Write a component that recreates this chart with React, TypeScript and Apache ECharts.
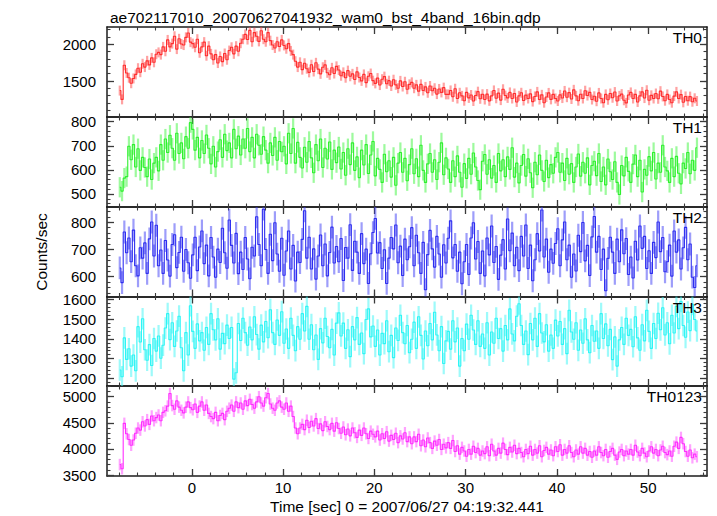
import React, { useEffect, useRef } from "react";
import * as echarts from "echarts";

const TITLE = "ae702117010_20070627041932_wam0_bst_4band_16bin.qdp";
const X_LABEL = "Time [sec] 0 = 2007/06/27 04:19:32.441";
const Y_LABEL = "Counts/sec";
const PANEL_NAMES = ["TH0", "TH1", "TH2", "TH3", "TH0123"];

const TIME_START = -7.9;
const BIN_WIDTH = 0.25;
const X_MIN = -9.3;
const X_MAX = 56.45;
const X_MAJOR = [0, 10, 20, 30, 40, 50];
const X_MINOR = [-8, -6, -4, -2, 0, 2, 4, 6, 8, 10, 12, 14, 16, 18, 20, 22, 24, 26, 28, 30, 32, 34, 36, 38, 40, 42, 44, 46, 48, 50, 52, 54, 56];

const TH0 = [
  1370, 1250, 1715, 1610, 1545, 1470, 1535, 1590, 1675, 1620, 1735, 1690, 1775, 1720, 1815, 1755,
  1865, 1890, 1860, 1965, 1905, 2060, 1965, 2010, 2110, 1935, 2075, 2005, 1990, 2095, 2155, 2030,
  2010, 1960, 2070, 1885, 1965, 2030, 1845, 1975, 1870, 1790, 1860, 1745, 1835, 1765, 1875, 1790,
  1915, 1960, 1870, 1975, 1905, 2015, 2070, 2135, 2065, 2190, 2035, 2160, 2110, 2040, 2185, 2070,
  2035, 2160, 2050, 1990, 1950, 2035, 1970, 2060, 1985, 1940, 2010, 1910, 1860, 1770, 1690, 1755,
  1655, 1742, 1668, 1618, 1722, 1630, 1748, 1662, 1598, 1688, 1720, 1612, 1585, 1680, 1602, 1700,
  1650, 1572, 1618, 1545, 1642, 1565, 1598, 1520, 1625, 1548, 1502, 1590, 1478, 1565, 1602, 1505,
  1468, 1540, 1445, 1525, 1560, 1462, 1505, 1432, 1518, 1448, 1402, 1502, 1425, 1490, 1388, 1455,
  1482, 1402, 1448, 1362, 1455, 1372, 1420, 1340, 1432, 1368, 1402, 1322, 1392, 1345, 1410, 1318,
  1318, 1372, 1285, 1395, 1262, 1340, 1298, 1232, 1346, 1270, 1310, 1228, 1302, 1355, 1258, 1320,
  1248, 1322, 1230, 1298, 1372, 1265, 1335, 1240, 1388, 1302, 1270, 1345, 1262, 1330, 1215, 1298,
  1340, 1235, 1308, 1262, 1325, 1220, 1290, 1352, 1248, 1312, 1205, 1282, 1338, 1250, 1318, 1262,
  1228, 1312, 1268, 1365, 1280, 1342, 1255, 1380, 1298, 1232, 1320, 1262, 1368, 1302, 1345, 1248,
  1292, 1225, 1338, 1262, 1205, 1318, 1245, 1330, 1272, 1350, 1228, 1298, 1322, 1238, 1202, 1310,
  1345, 1262, 1318, 1215, 1298, 1352, 1268, 1375, 1238, 1305, 1262, 1330, 1258, 1362, 1290, 1232,
  1318, 1248, 1205, 1295, 1352, 1262, 1315, 1210, 1290, 1232, 1288, 1218, 1265, 1228,
];

const TH1 = [
  528, 512, 566, 572, 698, 642, 705, 612, 688, 598, 652, 610, 572, 645, 560, 628,
  652, 596, 705, 640, 728, 672, 744, 690, 640, 752, 668, 712, 646, 738, 690, 796,
  768, 682, 735, 650, 722, 668, 745, 690, 625, 698, 612, 676, 725, 652, 748, 680,
  712, 650, 768, 688, 740, 662, 728, 690, 772, 676, 735, 650, 748, 702, 665, 738,
  682, 628, 712, 660, 735, 640, 718, 675, 698, 625, 752, 668, 772, 628, 714, 652,
  608, 694, 632, 718, 650, 588, 705, 638, 728, 610, 690, 645, 716, 602, 682, 630,
  695, 604, 672, 578, 688, 622, 712, 598, 654, 568, 682, 620, 705, 585, 662, 718,
  575, 648, 602, 548, 665, 592, 638, 570, 652, 536, 628, 672, 590, 648, 555, 622,
  688, 584, 646, 572, 702, 598, 548, 625, 668, 590, 642, 560, 632, 712, 580, 650,
  604, 548, 638, 572, 658, 590, 528, 626, 565, 648, 582, 670, 612, 556, 518, 636,
  664, 582, 642, 566, 618, 548, 668, 596, 642, 572, 654, 602, 692, 570, 628, 546,
  618, 664, 574, 646, 588, 526, 632, 580, 662, 598, 552, 640, 568, 622, 586, 652,
  672, 590, 628, 556, 648, 582, 626, 548, 612, 666, 574, 632, 586, 650, 538, 618,
  636, 576, 668, 552, 612, 538, 645, 592, 560, 634, 548, 498, 618, 575, 652, 594,
  548, 624, 662, 572, 640, 508, 602, 578, 655, 596, 672, 562, 628, 590, 702, 612,
  596, 548, 648, 572, 656, 586, 542, 628, 606, 672, 584, 640, 598, 692,
];

const TH2 = [
  632, 578, 764, 688, 742, 655, 771, 640, 603, 706, 668, 724, 612, 739, 801, 676,
  789, 640, 698, 612, 733, 661, 602, 718, 754, 633, 689, 745, 620, 700, 651, 594,
  680, 745, 622, 709, 768, 648, 716, 603, 744, 672, 598, 701, 652, 778, 688, 631,
  808, 715, 650, 759, 611, 690, 626, 744, 665, 592, 708, 676, 820, 718, 640, 848,
  700, 612, 756, 659, 798, 683, 620, 741, 605, 694, 768, 628, 715, 584, 690, 652,
  737, 842, 668, 745, 628, 702, 591, 676, 753, 640, 720, 603, 689, 782, 650, 711,
  655, 740, 586, 707, 668, 791, 623, 730, 690, 612, 758, 648, 701, 575, 684, 762,
  814, 687, 725, 630, 699, 575, 668, 744, 702, 790, 651, 712, 604, 738, 662, 710,
  780, 640, 752, 688, 612, 726, 552, 681, 770, 702, 635, 748, 683, 598, 717, 650,
  741, 805, 669, 718, 620, 690, 574, 655, 718, 608, 742, 798, 665, 729, 612, 694,
  603, 742, 680, 786, 652, 711, 590, 679, 736, 628, 812, 695, 760, 640, 708, 622,
  748, 676, 790, 630, 716, 585, 662, 758, 694, 845, 672, 738, 616, 701, 649, 722,
  776, 640, 735, 801, 662, 716, 598, 683, 621, 752, 692, 799, 658, 715, 604, 746,
  821, 690, 748, 626, 701, 548, 667, 745, 690, 612, 738, 655, 772, 684, 740, 608,
  672, 595, 730, 661, 786, 704, 748, 630, 695, 612, 726, 670, 801, 692, 744, 618,
  655, 716, 602, 768, 690, 735, 628, 706, 781, 662, 720, 598, 560, 640,
];

const TH3 = [
  1242, 1208, 1405, 1296, 1350, 1262, 1318, 1238, 1462, 1384, 1502, 1345, 1292, 1371, 1265, 1402,
  1338, 1415, 1302, 1368, 1455, 1528, 1396, 1482, 1362, 1440, 1515, 1355, 1238, 1432, 1318, 1568,
  1438, 1352, 1476, 1390, 1432, 1342, 1458, 1372, 1528, 1446, 1395, 1502, 1348, 1428, 1376, 1470,
  1402, 1458, 1196, 1228, 1478, 1392, 1505, 1432, 1368, 1460, 1395, 1512, 1422, 1348, 1470, 1385,
  1488, 1406, 1548, 1432, 1372, 1496, 1418, 1538, 1378, 1450, 1352, 1505, 1418, 1340, 1462, 1398,
  1528, 1440, 1565, 1398, 1472, 1345, 1420, 1296, 1452, 1380, 1505, 1412, 1355, 1448, 1318, 1480,
  1532, 1415, 1480, 1352, 1446, 1310, 1462, 1395, 1508, 1372, 1430, 1325, 1498, 1552, 1410, 1465,
  1362, 1445, 1318, 1428, 1376, 1492, 1335, 1418, 1305, 1455, 1392, 1520, 1432, 1375, 1468, 1330,
  1398, 1485, 1352, 1512, 1418, 1298, 1440, 1365, 1478, 1395, 1535, 1420, 1340, 1462, 1275, 1390,
  1438, 1348, 1492, 1385, 1455, 1262, 1402, 1340, 1475, 1398, 1520, 1445, 1372, 1492, 1362, 1425,
  1352, 1482, 1318, 1435, 1378, 1505, 1402, 1452, 1338, 1468, 1395, 1552, 1425, 1390, 1515, 1578,
  1468, 1372, 1440, 1320, 1478, 1395, 1505, 1362, 1528, 1430, 1385, 1472, 1338, 1420, 1352, 1495,
  1415, 1488, 1372, 1452, 1325, 1545, 1435, 1398, 1482, 1342, 1445, 1378, 1502, 1395, 1330, 1468,
  1388, 1440, 1352, 1528, 1402, 1476, 1365, 1448, 1295, 1410, 1262, 1395, 1458, 1372, 1505, 1418,
  1448, 1360, 1512, 1405, 1342, 1472, 1390, 1545, 1438, 1352, 1478, 1402, 1530, 1446, 1558, 1420,
  1482, 1375, 1520, 1430, 1565, 1452, 1590, 1468, 1408, 1536, 1442, 1575, 1498, 1440,
];

const TH0123 = [
  3700, 3620, 4490, 4290, 4180, 4070, 4170, 4300, 4400, 4360, 4520, 4440, 4560, 4470, 4630, 4540,
  4600, 4650, 4540, 4700, 4730, 4820, 5060, 4830, 4760, 4920, 4800, 4740, 4690, 4800, 4900, 4790,
  4750, 4860, 4700, 4820, 4900, 4740, 4840, 4680, 4620, 4580, 4700, 4540, 4640, 4680, 4560, 4720,
  4780, 4840, 4720, 4900, 4790, 4880, 4760, 4920, 4830, 4950, 4850, 4780, 4900, 5000, 4880, 4820,
  4980, 5060, 4860, 4780, 4740, 4880, 4920, 4800, 4760, 4880, 4720, 4820, 4620, 4400, 4290, 4400,
  4470, 4370, 4550, 4410, 4530, 4440, 4580, 4390, 4480, 4350, 4520, 4430, 4370, 4490, 4340, 4500,
  4390, 4300, 4420, 4270, 4380, 4250, 4400, 4310, 4220, 4360, 4260, 4400, 4290, 4200, 4340, 4280,
  4230, 4340, 4170, 4290, 4200, 4330, 4150, 4260, 4180, 4300, 4120, 4250, 4190, 4310, 4140, 4230,
  4100, 4230, 4140, 4280, 4060, 4170, 4040, 4210, 4120, 4010, 4150, 4070, 4180, 3990, 4090, 4020,
  4120, 4010, 4160, 3950, 4060, 3900, 4030, 3960, 3860, 3990, 3900, 4050, 3930, 4010, 3880, 3960,
  3910, 4040, 3870, 4090, 3960, 3880, 4010, 3920, 4110, 3990, 3890, 4030, 3940, 4070, 3910, 4010,
  3930, 3850, 3990, 3910, 4050, 3880, 3990, 3920, 4060, 3850, 3970, 4030, 3900, 3980, 3870, 4040,
  3950, 4080, 3880, 3990, 3920, 4060, 3930, 3850, 3980, 3900, 4040, 3920, 4010, 3880, 3950, 3840,
  3960, 3880, 4040, 3930, 3870, 3990, 3840, 3950, 4010, 3880, 3800, 3940, 3990, 3870, 3960, 3900,
  3990, 3880, 4070, 3940, 3870, 4010, 3920, 3850, 3960, 4040, 3920, 3990, 3870, 3980, 4050, 3930,
  3890, 3960, 3860, 4050, 4130, 4010, 4220, 4100, 3950, 3860, 3980, 3830, 3900, 3850,
];

const ERR_TH0 = 68;
const ERR_TH1 = 42;
const ERR_TH2 = 42;
const ERR_TH3 = 55;
const ERR_TH0123 = 110;

const Y_RANGE_TH0 = [1010, 2236];
const Y_RANGE_TH1 = [446, 819.5];
const Y_RANGE_TH2 = [527, 856];
const Y_RANGE_TH3 = [1161, 1615];
const Y_RANGE_TH0123 = [3481, 5205];

const Y_MAJOR_TH0 = [1500, 2000];
const Y_MINOR_TH0 = [1100, 1200, 1300, 1400, 1500, 1600, 1700, 1800, 1900, 2000, 2100, 2200];
const Y_MAJOR_TH1 = [500, 600, 700, 800];
const Y_MINOR_TH1 = [460, 480, 500, 520, 540, 560, 580, 600, 620, 640, 660, 680, 700, 720, 740, 760, 780, 800];
const Y_MAJOR_TH2 = [600, 700, 800];
const Y_MINOR_TH2 = [540, 560, 580, 600, 620, 640, 660, 680, 700, 720, 740, 760, 780, 800, 820, 840];
const Y_MAJOR_TH3 = [1200, 1300, 1400, 1500, 1600];
const Y_MINOR_TH3 = [1180, 1200, 1220, 1240, 1260, 1280, 1300, 1320, 1340, 1360, 1380, 1400, 1420, 1440, 1460, 1480, 1500, 1520, 1540, 1560, 1580, 1600];
const Y_MAJOR_TH0123 = [3500, 4000, 4500, 5000];
const Y_MINOR_TH0123 = [3500, 3600, 3700, 3800, 3900, 4000, 4100, 4200, 4300, 4400, 4500, 4600, 4700, 4800, 4900, 5000, 5100, 5200];

const FONT_FAMILY = '"Liberation Sans", Arial, Helvetica, sans-serif';
const FRAME = "#1c1c1c";
const TICK = "#3a3a3a";

const PANEL_TOPS = [27, 117, 207, 296.5, 386];
const PANEL_H = [90, 90, 89.5, 89.5, 90];

const PANELS = [
  { name: PANEL_NAMES[0], values: TH0, err: ERR_TH0, range: Y_RANGE_TH0, major: Y_MAJOR_TH0, minor: Y_MINOR_TH0, color: "#ff2e2e", errColor: "rgba(255,70,70,0.5)" },
  { name: PANEL_NAMES[1], values: TH1, err: ERR_TH1, range: Y_RANGE_TH1, major: Y_MAJOR_TH1, minor: Y_MINOR_TH1, color: "#2ef02e", errColor: "rgba(60,245,60,0.5)" },
  { name: PANEL_NAMES[2], values: TH2, err: ERR_TH2, range: Y_RANGE_TH2, major: Y_MAJOR_TH2, minor: Y_MINOR_TH2, color: "#2e2ef0", errColor: "rgba(60,60,245,0.5)" },
  { name: PANEL_NAMES[3], values: TH3, err: ERR_TH3, range: Y_RANGE_TH3, major: Y_MAJOR_TH3, minor: Y_MINOR_TH3, color: "#2ef5f5", errColor: "rgba(60,245,245,0.5)" },
  { name: PANEL_NAMES[4], values: TH0123, err: ERR_TH0123, range: Y_RANGE_TH0123, major: Y_MAJOR_TH0123, minor: Y_MINOR_TH0123, color: "#ff2eff", errColor: "rgba(255,70,255,0.5)" },
];

function buildOption() {
  const grids: any[] = [];
  const xAxes: any[] = [];
  const yAxes: any[] = [];
  const series: any[] = [];
  const graphics: any[] = [];
  const last = PANELS.length - 1;
  const plain = (v: number) => String(v);

  PANELS.forEach((p, gi) => {
    grids.push({ left: 107, right: 10, top: PANEL_TOPS[gi], height: PANEL_H[gi], containLabel: false, outerBoundsMode: "none" });

    const xBase = {
      gridIndex: gi, type: "value", min: X_MIN, max: X_MAX,
      splitLine: { show: false }, axisLabel: { show: false },
      axisLine: { show: false, onZero: false },
    };
    const majTick = (vals: number[]) => ({ show: true, inside: true, length: 7, customValues: vals, lineStyle: { color: TICK, width: 1.3 } });
    const minTick = (vals: number[]) => ({ show: true, inside: true, length: 3.5, customValues: vals, lineStyle: { color: TICK, width: 1.1 } });
    const frameLine = { show: true, onZero: false, lineStyle: { color: FRAME, width: 1.5 } };

    xAxes.push({
      ...xBase, position: "bottom", axisLine: frameLine, axisTick: majTick(X_MAJOR),
      axisLabel: gi === last
        ? { show: true, customValues: X_MAJOR, margin: 4, fontSize: 15, color: "#000", fontFamily: FONT_FAMILY, formatter: plain }
        : { show: false },
    });
    xAxes.push({ ...xBase, position: "bottom", axisTick: minTick(X_MINOR) });
    xAxes.push({ ...xBase, position: "top", axisLine: frameLine, axisTick: majTick(X_MAJOR) });
    xAxes.push({ ...xBase, position: "top", axisTick: minTick(X_MINOR) });

    const yBase = {
      gridIndex: gi, type: "value", min: p.range[0], max: p.range[1],
      splitLine: { show: false }, axisLabel: { show: false },
      axisLine: { show: false, onZero: false },
    };
    yAxes.push({
      ...yBase, position: "left", axisLine: frameLine, axisTick: majTick(p.major),
      axisLabel: { show: true, customValues: p.major, margin: 11, fontSize: 15, color: "#000", fontFamily: FONT_FAMILY, formatter: plain },
    });
    yAxes.push({ ...yBase, position: "left", axisTick: minTick(p.minor) });
    yAxes.push({ ...yBase, position: "right", axisLine: frameLine, axisTick: majTick(p.major) });
    yAxes.push({ ...yBase, position: "right", axisTick: minTick(p.minor) });

    const pts = p.values.map((v, j) => [TIME_START + j * BIN_WIDTH, v, p.err]);
    const errColor = p.errColor;
    series.push({
      type: "custom",
      name: p.name + " err",
      xAxisIndex: gi * 4,
      yAxisIndex: gi * 4,
      clip: true,
      data: pts,
      encode: { x: 0, y: 1 },
      z: 2,
      renderItem: (params: any, api: any) => {
        const t = api.value(0);
        const v = api.value(1);
        const e = api.value(2);
        const a = api.coord([t, v - e]);
        const b = api.coord([t, v + e]);
        return {
          type: "line",
          shape: { x1: a[0], y1: a[1], x2: b[0], y2: b[1] },
          style: { stroke: errColor, lineWidth: 2.2 },
        };
      },
    });
    series.push({
      type: "line",
      name: p.name,
      xAxisIndex: gi * 4,
      yAxisIndex: gi * 4,
      step: "middle",
      showSymbol: false,
      symbol: "none",
      data: pts.map((q) => [q[0], q[1]]),
      lineStyle: { color: p.color, width: 1.1 },
      z: 3,
      clip: true,
    });

    graphics.push({
      type: "text",
      x: 702,
      y: PANEL_TOPS[gi] + 10.5,
      style: { text: p.name, fill: "#000", font: `15.5px ${FONT_FAMILY}`, align: "right", verticalAlign: "middle" },
      z: 10,
    });
  });

  graphics.push({
    type: "text",
    x: 41,
    y: 252,
    rotation: Math.PI / 2,
    style: { text: Y_LABEL, fill: "#000", font: `15.5px ${FONT_FAMILY}`, align: "center", verticalAlign: "middle" },
  });
  graphics.push({
    type: "text",
    x: 407,
    y: 506,
    style: { text: X_LABEL, fill: "#000", font: `15.5px ${FONT_FAMILY}`, align: "center", verticalAlign: "middle" },
  });

  return {
    animation: false,
    backgroundColor: "#ffffff",
    title: {
      text: TITLE,
      left: 105,
      top: 4,
      textStyle: { fontSize: 15.5, fontWeight: "normal", color: "#000", fontFamily: FONT_FAMILY },
    },
    grid: grids,
    xAxis: xAxes,
    yAxis: yAxes,
    series,
    graphic: graphics,
  };
}

export default function App() {
  const ref = useRef<HTMLDivElement>(null);
  useEffect(() => {
    if (!ref.current) return;
    const chart = echarts.init(ref.current, undefined, { renderer: "svg" });
    chart.setOption(buildOption() as any);
    return () => chart.dispose();
  }, []);
  return (
    <div
      ref={ref}
      style={{ position: "fixed", left: 0, top: 0, width: 717, height: 516, background: "#fff" }}
    />
  );
}
